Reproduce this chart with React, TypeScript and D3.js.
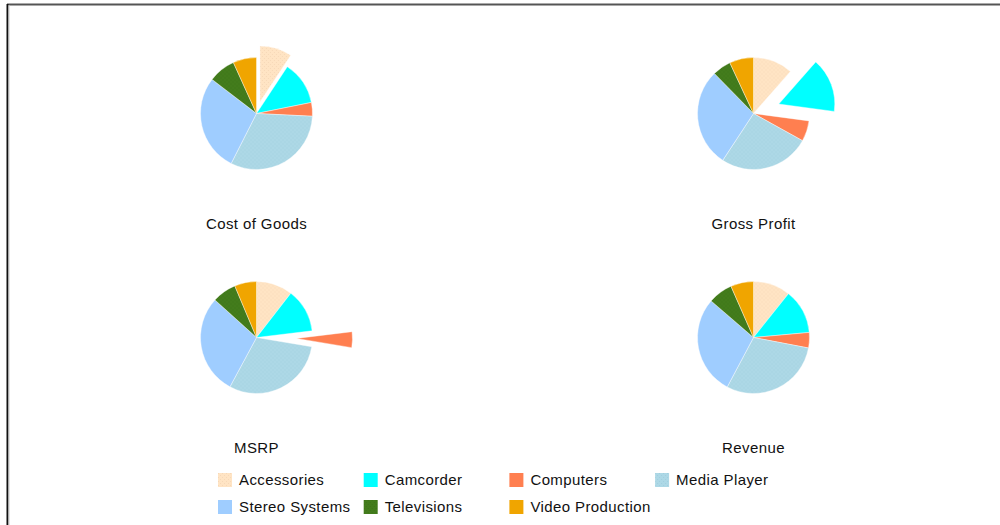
import React from "react";
import * as d3 from "d3";

const categories = ["Accessories", "Camcorder", "Computers", "Media Player", "Stereo Systems", "Televisions", "Video Production"];
const colors = ["#FFE4C4", "#00FFFF", "#FF7F50", "#ADD8E6", "#9FCDFF", "#437C1C", "#F0A500"];
const dotColors = ["#F6D8B8", null, null, "#A0CEDE", null, "#3C7318", null];

const costOfGoods = [33.4, 45.2, 14.2, 114.1, 100.6, 28.1, 24.4];
const grossProfit = [41.3, 56.3, 21.4, 94.3, 102.4, 19.3, 25.0];
const msrp = [37.8, 45.3, 16.4, 108.8, 103.8, 25.1, 22.8];
const revenue = [38.6, 46.2, 16.0, 107.2, 102.8, 25.5, 23.7];

const titles = ["Cost of Goods", "Gross Profit", "MSRP", "Revenue"];
const seriesList = [costOfGoods, grossProfit, msrp, revenue];
const explodedIndex = [0, 1, 2, -1];
const explodeOffset = [12, 27, 40, 0];

const centers = [
  [256.5, 113.5],
  [753.5, 113.5],
  [256.5, 337.5],
  [753.5, 337.5],
];
const R = 56;

export default function App() {
  const pie = d3.pie<number>().sort(null).value((d) => d);
  const arc = d3.arc<d3.PieArcDatum<number>>().innerRadius(0).outerRadius(R);
  const font = "'Liberation Sans', Arial, sans-serif";

  const fillFor = (i: number) => (dotColors[i] ? `url(#pat${i})` : colors[i]);

  return (
    <svg width={1000} height={525} style={{ position: "absolute", left: 0, top: 0 }} fontFamily={font}>
      <defs>
        {categories.map((c, i) =>
          dotColors[i] ? (
            <pattern key={c} id={`pat${i}`} width={4} height={4} patternUnits="userSpaceOnUse">
              <rect width={4} height={4} fill={colors[i]} />
              <rect x={0} y={0} width={1} height={1} fill={dotColors[i] as string} />
              <rect x={2} y={2} width={1} height={1} fill={dotColors[i] as string} />
            </pattern>
          ) : null
        )}
      </defs>
      <rect x={0} y={0} width={1000} height={525} fill="#fff" />
      <line x1={7} y1={4.5} x2={1000} y2={4.5} stroke="#555" strokeWidth={2} />
      <line x1={7.5} y1={4} x2={7.5} y2={525} stroke="#111" strokeWidth={2} />
      <line x1={9} y1={5} x2={9} y2={525} stroke="#ccc" strokeWidth={1} />
      {seriesList.map((vals, k) => {
        const arcs = pie(vals);
        const [cx, cy] = centers[k];
        return (
          <g key={titles[k]} transform={`translate(${cx},${cy})`}>
            {arcs.map((a, i) => {
              let dx = 0;
              let dy = 0;
              if (i === explodedIndex[k]) {
                const mid = (a.startAngle + a.endAngle) / 2;
                dx = Math.sin(mid) * explodeOffset[k];
                dy = -Math.cos(mid) * explodeOffset[k];
              }
              return (
                <path
                  key={categories[i]}
                  d={arc(a) as string}
                  transform={`translate(${dx},${dy})`}
                  fill={fillFor(i)}
                  stroke="#fff"
                  strokeWidth={0.4}
                />
              );
            })}
            <text x={0} y={115} textAnchor="middle" fontSize={15} letterSpacing={0.4} fill="#111">
              {titles[k]}
            </text>
          </g>
        );
      })}
      <g>
        {categories.map((c, i) => {
          const col = i % 4;
          const row = Math.floor(i / 4);
          const x = 218 + col * 145.7;
          const y = 473 + row * 27;
          return (
            <g key={c} transform={`translate(${x},${y})`}>
              <rect width={14} height={14} fill={fillFor(i)} />
              <text x={21} y={12} fontSize={15} letterSpacing={0.4} fill="#111">
                {c}
              </text>
            </g>
          );
        })}
      </g>
    </svg>
  );
}
